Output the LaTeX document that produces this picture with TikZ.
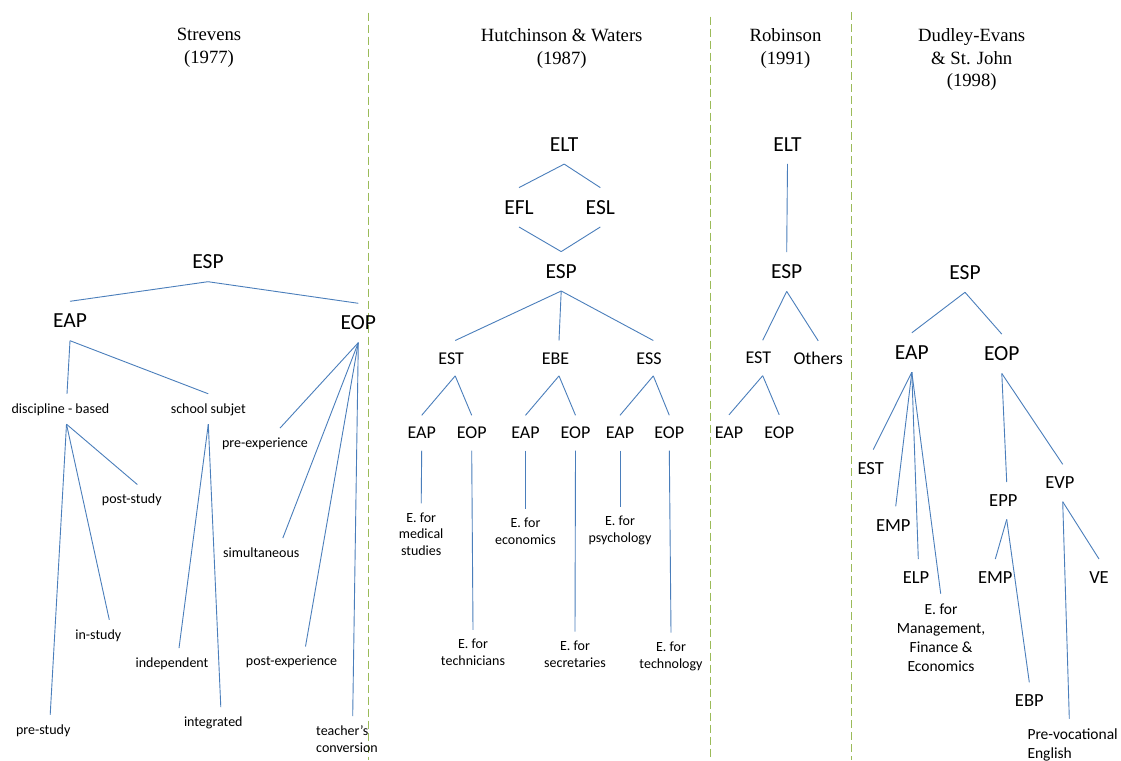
\documentclass[tikz,border=0pt]{standalone}
\usepackage{fontspec}
\setmainfont{Carlito}
\newfontfamily\hdrfont{Liberation Serif}
\definecolor{lnblue}{HTML}{4A7EBB}
\definecolor{divgreen}{HTML}{9BBB59}
\tikzset{
 ln/.style={draw=lnblue, line width=0.9pt},
 dv/.style={draw=divgreen, line width=1.3pt, dash pattern=on 8pt off 4pt},
 big/.style={font=\fontsize{21.5}{24}\selectfont, text height=13.8pt, text depth=0pt, inner sep=0pt, minimum height=39pt},
 med/.style={font=\fontsize{18}{21}\selectfont, text height=11.6pt, text depth=0pt, inner sep=0pt, minimum height=35pt},
 dmed/.style={font=\fontsize{18.5}{22}\selectfont, text height=11.9pt, text depth=0pt, inner sep=0pt, minimum height=37pt},
 sm/.style={font=\fontsize{14}{16.6}\selectfont, text height=8pt, text depth=0pt, inner sep=0pt, minimum height=30pt},
 smml/.style={font=\fontsize{14}{16.6}\selectfont, align=center, anchor=north, inner xsep=0pt, inner ysep=9pt},
 dsml/.style={font=\fontsize{15.5}{18.9}\selectfont, align=center, anchor=north, inner xsep=0pt, inner ysep=10pt},
 hdr/.style={font=\hdrfont\fontsize{18.7}{22.7}\selectfont, align=center, anchor=north, inner sep=0pt},
}
\begin{document}
\begin{tikzpicture}[x=1pt,y=-1pt]
\useasboundingbox[fill=white] (0,0) rectangle (1121,760);
% dividers
\draw[dv] (368.3,12.7) -- (368.3,760);
\draw[dv] (710.7,16.7) -- (710.7,760);
\draw[dv] (851.7,12.3) -- (851.7,760);

% ---------------- Strevens
\node[hdr] (h1) at (209,28.4) {Strevens\\(1977)};
\node[big] (s_esp) at (208,262) {ESP};
\node[big] (s_eap) at (70,321) {EAP};
\node[big] (s_eop) at (358.3,323) {EOP};
\node[sm] (s_disc) at (60.5,409) {discipline - based};
\node[sm] (s_school) at (208.3,409) {school subjet};
\node[sm] (s_post) at (131.8,499.7) {post-study};
\node[sm] (s_in) at (98.3,635) {in-study};
\node[sm] (s_pre) at (43.2,730) {pre-study};
\node[sm] (s_indep) at (172,663.3) {independent};
\node[sm] (s_integ) at (213.3,722.3) {integrated};
\node[sm] (s_preexp) at (265,443.3) {pre-experience};
\node[sm] (s_simul) at (261.3,553.3) {simultaneous};
\node[sm] (s_postexp) at (291.5,661.7) {post-experience};
\node[smml, align=left, anchor=north west, font=\fontsize{14}{17}\selectfont] (s_teach) at (316,716) {teacher’s\\conversion};

\draw[ln] (s_esp.south) -- (s_eap.north);
\draw[ln] (s_esp.south) -- (s_eop.north);
\draw[ln] (s_eap.south) -- ([xshift=6.5pt]s_disc.north);
\draw[ln] (s_eap.south) -- (s_school.north);
\draw[ln] ([xshift=6pt]s_disc.south) -- ([xshift=5.5pt]s_post.north);
\draw[ln] ([xshift=6pt]s_disc.south) -- ([xshift=11pt]s_in.north);
\draw[ln] ([xshift=6pt]s_disc.south) -- ([xshift=7pt]s_pre.north);
\draw[ln] (s_school.south) -- ([xshift=7pt]s_indep.north);
\draw[ln] (s_school.south) -- ([xshift=7.5pt]s_integ.north);
\draw[ln] (s_eop.south) -- ([xshift=15pt]s_preexp.north);
\draw[ln] (s_eop.south) -- ([xshift=21.5pt]s_simul.north);
\draw[ln] (s_eop.south) -- ([xshift=14pt]s_postexp.north);
\draw[ln] (s_eop.south) -- ([xshift=36.7pt]s_teach.north west);

% ---------------- Hutchinson & Waters
\node[hdr] (h2) at (561.7,28.4) {Hutchinson \& Waters\\(1987)};
\node[big] (h_elt) at (564.2,144.4) {ELT};
\node[big] (h_efl) at (519,207.3) {EFL};
\node[big] (h_esl) at (600.3,207.3) {ESL};
\node[big] (h_esp) at (561.2,271.3) {ESP};
\node[med] (h_est) at (451.2,358.2) {EST};
\node[med] (h_ebe) at (555.5,358.2) {EBE};
\node[med] (h_ess) at (649,358.2) {ESS};
\node[med] (h_eap1) at (421.7,433) {EAP};
\node[med] (h_eop1) at (471.7,433) {EOP};
\node[med] (h_eap2) at (525.5,433) {EAP};
\node[med] (h_eop2) at (575.5,433) {EOP};
\node[med] (h_eap3) at (620,433) {EAP};
\node[med] (h_eop3) at (669.3,433) {EOP};
\node[smml] (h_med) at (421.2,503.3) {E. for\\medical\\studies};
\node[smml] (h_tech) at (473,629.8) {E. for\\technicians};
\node[smml] (h_econ) at (525.5,508.8) {E. for\\economics};
\node[smml] (h_secr) at (575,631.6) {E. for\\secretaries};
\node[smml] (h_psy) at (620,507) {E. for\\psychology};
\node[smml] (h_tnl) at (671,632.7) {E. for\\technology};

\draw[ln] (h_elt.south) -- (h_efl.north);
\draw[ln] (h_elt.south) -- (h_esl.north);
\draw[ln] (h_efl.south) -- (h_esp.north);
\draw[ln] (h_esl.south) -- (h_esp.north);
\draw[ln] (h_esp.south) -- ([xshift=4pt]h_est.north);
\draw[ln] (h_esp.south) -- ([xshift=3.5pt]h_ebe.north);
\draw[ln] (h_esp.south) -- ([xshift=4.3pt]h_ess.north);
\draw[ln] ([xshift=4pt]h_est.south) -- (h_eap1.north);
\draw[ln] ([xshift=4pt]h_est.south) -- (h_eop1.north);
\draw[ln] ([xshift=3.5pt]h_ebe.south) -- (h_eap2.north);
\draw[ln] ([xshift=3.5pt]h_ebe.south) -- (h_eop2.north);
\draw[ln] ([xshift=4.3pt]h_ess.south) -- (h_eap3.north);
\draw[ln] ([xshift=4.3pt]h_ess.south) -- (h_eop3.north);
\draw[ln] (h_eap1.south) -- (h_med.north);
\draw[ln] (h_eop1.south) -- (h_tech.north);
\draw[ln] (h_eap2.south) -- (h_econ.north);
\draw[ln] (h_eop2.south) -- (h_secr.north);
\draw[ln] (h_eap3.south) -- (h_psy.north);
\draw[ln] (h_eop3.south) -- (h_tnl.north);

% ---------------- Robinson
\node[hdr] (h3) at (785.5,28.4) {Robinson\\(1991)};
\node[big] (r_elt) at (787.5,144.2) {ELT};
\node[big] (r_esp) at (786.7,271.7) {ESP};
\node[med] (r_est) at (758.3,358) {EST};
\node[med] (r_oth) at (818.2,358.5) {Others};
\node[med] (r_eap) at (729,432.5) {EAP};
\node[med] (r_eop) at (779.2,432.5) {EOP};

\draw[ln] (r_elt.south) -- (r_esp.north);
\draw[ln] (r_esp.south) -- ([xshift=4.4pt]r_est.north);
\draw[ln] (r_esp.south) -- (r_oth.north);
\draw[ln] ([xshift=4.4pt]r_est.south) -- (r_eap.north);
\draw[ln] ([xshift=4.4pt]r_est.south) -- (r_eop.north);

% ---------------- Dudley-Evans & St. John
\node[hdr] (h4) at (971.7,28.4) {Dudley-Evans\\\& St. John\\(1998)};
\node[big] (d_esp) at (965,272.6) {ESP};
\node[big] (d_eap) at (911.8,352.5) {EAP};
\node[big] (d_eop) at (1001.8,353.8) {EOP};
\node[dmed] (d_est) at (870.7,468.3) {EST};
\node[dmed] (d_emp) at (893.3,525.1) {EMP};
\node[dmed] (d_elp) at (916,577.7) {ELP};
\node[dsml] (d_mfe) at (941,593.7) {E. for\\Management,\\Finance \&\\Economics};
\node[dmed] (d_epp) at (1003.3,500.7) {EPP};
\node[dmed] (d_evp) at (1060,483) {EVP};
\node[dmed] (d_emp2) at (995.3,577.7) {EMP};
\node[dmed] (d_ebp) at (1029.3,701) {EBP};
\node[dmed] (d_ve) at (1099,577.7) {VE};
\node[dsml, align=left, anchor=north west] (d_pve) at (1027.3,718.7) {Pre-vocational\\English};

\draw[ln] (d_esp.south) -- (d_eap.north);
\draw[ln] (d_esp.south) -- (d_eop.north);
\draw[ln] (d_eap.south) -- ([xshift=2.6pt]d_est.north);
\draw[ln] (d_eap.south) -- ([xshift=2.4pt]d_emp.north);
\draw[ln] (d_eap.south) -- ([xshift=2.3pt]d_elp.north);
\draw[ln] (d_eap.south) -- ([xshift=-0.3pt]d_mfe.north);
\draw[ln] (d_eop.south) -- ([xshift=3.4pt]d_epp.north);
\draw[ln] (d_eop.south) -- ([xshift=2.7pt]d_evp.north);
\draw[ln] ([xshift=3.4pt]d_epp.south) -- (d_emp2.north);
\draw[ln] ([xshift=3.4pt]d_epp.south) -- (d_ebp.north);
\draw[ln] ([xshift=2.7pt]d_evp.south) -- (d_ve.north);
\draw[ln] ([xshift=2.7pt]d_evp.south) -- ([xshift=42pt]d_pve.north west);
\end{tikzpicture}
\end{document}
